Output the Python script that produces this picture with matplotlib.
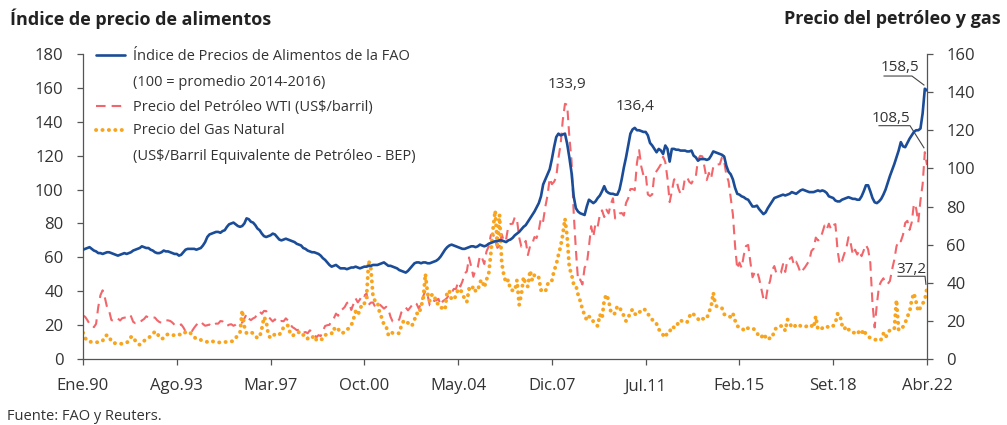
import matplotlib
matplotlib.use('Agg')
import matplotlib.pyplot as plt
from matplotlib.lines import Line2D

plt.rcParams['font.family'] = ['Open Sans', 'DejaVu Sans']

# ---------------- DATA (monthly, Jan 1990 - Apr 2022) ----------------
fao = [
 64.5, 65, 65.5, 66, 65, 64, 63.5, 62.5, 62.5, 62, 62.5, 63,
 63, 62.5, 62, 61.5, 61, 61.5, 62, 62.5, 62, 62.5, 63, 64,
 64.5, 65, 65.5, 66.5, 66, 65.5, 65.5, 64.5, 64, 63, 62.5, 62.5,
 63, 64, 63.5, 63.5, 63, 62.5, 62, 62, 61, 61.5, 63, 64.5,
 65, 65, 65, 65, 64.5, 65, 65.5, 67, 69, 72, 73.5, 74,
 74.5, 75, 75, 74.5, 75.5, 76, 78, 79.5, 80, 80.5, 79.5, 78.5,
 78, 78.5, 80, 83, 82.5, 81, 80.5, 79, 77, 76, 74, 72.5,
 72, 72.5, 73, 74, 73.5, 72, 70.5, 70, 70.5, 71, 70.5, 70,
 69.5, 69, 68, 67.5, 67, 65.5, 65, 64, 63.5, 63, 63, 62.5,
 62, 61, 59.5, 58.5, 57, 55.5, 54.5, 55, 55.5, 54.5, 53.5, 53.5,
 53.5, 53, 53.5, 54, 54, 54.5, 54, 53.5, 54, 54.5, 54.5, 55,
 55, 55.5, 55.5, 55.5, 56, 56.5, 57, 56, 55, 55, 54.5, 54,
 53.5, 52.5, 52, 51.5, 51, 52, 53.5, 55, 56.5, 57, 57, 56.5,
 57, 57, 56.5, 56.5, 57, 57.5, 58, 59, 60.5, 62.5, 64.5, 66,
 67, 67.5, 67, 66.5, 66, 65.5, 65, 65, 65.5, 66, 66.5, 66.5,
 66, 66.5, 67.5, 67, 66.5, 67, 68, 68.5, 69, 69.5, 69.5, 70,
 70, 69.5, 69, 70, 70.5, 71.5, 73, 74, 75, 76.5, 78, 79,
 81, 83, 85, 87, 89.5, 92, 96, 103, 106, 109, 112, 118,
 125, 131, 133, 132, 132.5, 133, 127, 119, 110, 96, 89, 87,
 86, 85.5, 85, 90, 94, 93, 92, 93, 95, 96.5, 99, 102,
 99, 98, 97.5, 97.5, 97, 97, 100, 106, 113, 119, 126, 133,
 135.5, 136.4, 135, 135, 134.5, 134, 134, 132, 127.5, 126, 124, 122,
 124, 123, 121, 126, 124, 116.5, 124, 124, 123.5, 123.5, 123, 123,
 123, 122.5, 122.5, 123, 120, 119, 117, 118, 118, 118, 117.5, 118,
 120, 122.5, 122, 121.5, 121, 120.5, 119.5, 114, 110.5, 109, 106, 101,
 97.5, 97, 96, 95.5, 94.5, 94, 92, 90, 90, 90.5, 88.5, 87,
 85.5, 86.5, 89, 91, 93, 95, 95.5, 96, 96.5, 97, 96.5, 97,
 97.5, 98.5, 98, 97.5, 98.5, 99.5, 100, 99.5, 99, 98.5, 98.5, 98.5,
 99, 99.5, 99, 99.5, 99, 98, 96, 95.5, 95, 93.5, 93, 93,
 94, 94.5, 95, 95.5, 95, 94.5, 94.5, 94, 94, 96, 99, 102.5,
 102.5, 99, 95, 92.5, 92, 93, 94.5, 97, 100, 104, 108, 111.5,
 115, 119, 123, 128, 125.5, 125, 127.5, 130, 132, 134, 135, 135,
 136, 145, 159.5, 158.5]

wti = [
 22.86, 22.11, 20.39, 18.43, 18.20, 16.70, 18.45, 27.31, 33.51, 36.04, 32.33, 27.28,
 25.23, 20.48, 19.90, 20.83, 21.23, 20.19, 21.40, 21.69, 21.89, 23.23, 22.46, 19.50,
 18.79, 19.01, 18.92, 20.23, 20.98, 22.39, 21.78, 21.34, 21.88, 21.69, 20.34, 19.41,
 19.03, 20.09, 20.32, 20.25, 19.95, 19.09, 17.89, 18.01, 17.50, 18.15, 16.61, 14.52,
 15.03, 14.78, 14.68, 16.42, 17.89, 19.06, 19.66, 18.38, 17.45, 17.72, 18.07, 17.16,
 18.04, 18.57, 18.54, 19.90, 19.74, 18.45, 17.33, 18.02, 18.23, 17.43, 17.99, 19.03,
 18.86, 19.09, 21.33, 23.50, 21.17, 20.42, 21.30, 21.90, 23.97, 24.88, 23.71, 25.23,
 25.13, 22.18, 20.97, 19.70, 20.82, 19.26, 19.66, 19.95, 19.80, 21.33, 20.19, 18.33,
 16.72, 16.06, 15.12, 15.35, 14.91, 13.72, 14.17, 13.47, 15.03, 14.46, 13.00, 11.35,
 12.52, 12.01, 14.68, 17.31, 17.72, 17.92, 20.10, 21.28, 23.80, 22.69, 25.00, 26.10,
 27.26, 29.37, 29.84, 25.72, 28.79, 31.82, 29.70, 31.26, 33.88, 33.11, 34.42, 28.44,
 29.59, 29.61, 27.24, 27.49, 28.63, 27.60, 26.43, 27.37, 26.20, 22.17, 19.64, 19.39,
 19.72, 20.72, 24.53, 26.18, 27.04, 25.52, 26.97, 28.39, 29.66, 28.84, 26.35, 29.46,
 32.95, 35.83, 33.51, 28.17, 28.11, 30.66, 30.75, 31.57, 28.31, 30.34, 31.11, 32.13,
 34.31, 34.69, 36.74, 36.75, 40.28, 38.03, 40.78, 44.90, 45.94, 53.28, 48.47, 43.15,
 46.84, 48.15, 54.19, 52.98, 49.83, 56.35, 59.00, 64.99, 65.59, 62.26, 58.32, 59.41,
 65.49, 61.63, 62.69, 69.44, 70.84, 70.95, 74.41, 73.04, 63.80, 58.89, 59.08, 61.96,
 54.51, 59.28, 60.44, 63.98, 63.46, 67.49, 74.12, 72.36, 79.92, 85.80, 94.77, 91.69,
 92.97, 95.39, 105.45, 112.58, 125.40, 133.88, 133.37, 116.67, 104.11, 76.61, 57.31, 41.12,
 41.71, 39.09, 47.94, 49.65, 59.03, 69.64, 64.15, 71.05, 69.41, 75.72, 77.99, 74.47,
 78.33, 76.39, 81.20, 84.29, 73.74, 75.34, 76.32, 76.60, 75.24, 81.89, 84.25, 89.15,
 89.17, 88.58, 102.86, 109.53, 100.90, 96.26, 97.30, 86.33, 85.52, 86.32, 97.16, 98.56,
 100.27, 102.20, 106.16, 103.32, 94.66, 82.30, 87.90, 94.13, 94.51, 89.49, 86.53, 87.86,
 94.76, 95.31, 92.94, 92.02, 94.51, 95.77, 104.67, 106.57, 106.29, 100.54, 93.86, 97.63,
 94.62, 100.82, 100.80, 102.07, 102.18, 105.79, 103.59, 96.54, 93.21, 84.40, 75.79, 59.29,
 47.22, 50.58, 47.82, 54.45, 59.27, 59.82, 50.90, 42.87, 45.48, 46.22, 42.44, 37.19,
 31.68, 30.32, 37.55, 40.75, 46.71, 48.76, 44.65, 44.72, 45.18, 49.78, 45.66, 51.97,
 52.50, 53.47, 49.33, 51.06, 48.48, 45.18, 46.63, 48.04, 49.82, 51.58, 56.64, 57.88,
 63.70, 62.23, 62.73, 66.25, 69.98, 67.87, 70.98, 68.06, 70.23, 70.75, 56.96, 49.52,
 51.38, 54.95, 58.15, 63.86, 60.83, 54.66, 57.35, 54.81, 56.95, 53.96, 57.03, 59.88,
 57.52, 50.54, 29.21, 16.55, 28.56, 38.31, 40.71, 42.34, 39.63, 39.40, 40.94, 47.02,
 52.00, 59.04, 62.33, 61.72, 65.17, 71.38, 72.49, 67.73, 71.65, 81.48, 79.15, 71.71,
 83.22, 91.64, 108.50, 101.78]

gas = [
 13.8, 11.0, 9.5, 9.0, 9.0, 8.8, 8.8, 8.8, 9.0, 9.5, 12.0, 12.5,
 12.0, 9.0, 8.5, 8.2, 8.0, 8.0, 8.0, 8.2, 8.5, 9.5, 11.5, 11.8,
 9.5, 8.0, 7.5, 8.5, 9.5, 10.5, 11.0, 12.0, 13.0, 14.5, 13.5, 11.5,
 10.5, 11.0, 12.5, 13.0, 13.0, 12.5, 12.5, 12.5, 13.0, 12.5, 13.5, 14.0,
 14.5, 14.0, 12.5, 11.5, 10.5, 10.5, 10.0, 9.5, 9.0, 9.0, 9.0, 9.5,
 9.0, 8.8, 8.6, 8.8, 9.0, 9.0, 8.8, 9.0, 9.2, 9.5, 11.0, 12.5,
 14.0, 25.6, 17.0, 13.5, 13.5, 14.0, 13.5, 12.0, 11.0, 11.5, 16.0, 22.0,
 20.0, 12.5, 11.0, 11.8, 13.1, 12.8, 12.7, 14.4, 16.7, 17.8, 17.5, 13.6,
 12.1, 12.9, 13.0, 14.1, 12.4, 12.6, 12.6, 10.7, 11.7, 11.1, 12.3, 10.0,
 10.7, 10.3, 10.4, 12.5, 13.1, 13.3, 13.4, 16.2, 14.8, 15.8, 13.7, 13.7,
 14.0, 15.4, 16.2, 17.6, 20.8, 24.9, 23.1, 25.7, 29.3, 29.1, 32.0, 51.6,
 47.4, 32.5, 30.3, 30.1, 24.3, 21.6, 18.0, 17.2, 12.7, 14.3, 13.6, 13.3,
 13.5, 13.5, 17.6, 19.9, 20.3, 18.9, 17.3, 17.9, 20.6, 24.0, 23.4, 27.5,
 31.5, 44.7, 34.4, 30.5, 33.7, 33.8, 29.2, 28.9, 26.8, 26.9, 25.9, 35.6,
 35.6, 31.1, 31.3, 33.1, 36.7, 36.4, 34.4, 31.4, 29.9, 36.8, 35.8, 38.2,
 35.7, 35.6, 40.4, 41.5, 37.5, 41.6, 44.3, 55.3, 68.2, 77.8, 59.7, 75.7,
 50.4, 43.7, 40.0, 41.5, 36.3, 36.0, 35.8, 41.4, 28.4, 33.9, 43.0, 39.0,
 38.0, 46.4, 41.2, 44.1, 44.3, 42.6, 36.1, 36.1, 35.3, 39.1, 41.2, 41.2,
 46.3, 49.5, 54.6, 59.0, 65.4, 73.6, 64.3, 47.9, 44.5, 39.1, 38.7, 33.8,
 30.4, 26.2, 23.0, 20.3, 22.2, 22.0, 19.6, 18.2, 17.3, 23.3, 21.2, 31.0,
 33.8, 30.9, 24.9, 23.4, 24.0, 27.8, 26.9, 25.1, 22.6, 19.9, 21.5, 24.7,
 26.0, 23.7, 23.0, 24.6, 25.0, 26.3, 25.6, 23.5, 22.6, 20.7, 18.8, 18.4,
 15.5, 14.5, 12.6, 11.3, 14.1, 14.3, 17.1, 16.5, 16.5, 19.3, 20.5, 19.4,
 19.3, 19.3, 22.1, 24.2, 23.4, 22.2, 21.0, 19.9, 21.0, 21.3, 21.1, 24.6,
 27.3, 34.8, 28.4, 27.0, 26.6, 26.6, 23.5, 22.7, 22.7, 21.9, 23.9, 20.2,
 17.3, 16.6, 16.4, 15.1, 16.5, 16.1, 16.5, 16.1, 15.4, 13.6, 12.1, 11.2,
 13.2, 11.5, 10.0, 11.1, 11.1, 15.0, 16.4, 16.4, 17.3, 17.3, 14.8, 20.8,
 19.1, 16.5, 16.7, 18.0, 18.3, 17.3, 17.3, 16.8, 17.3, 16.7, 17.5, 16.4,
 22.4, 15.5, 15.6, 16.2, 16.2, 17.2, 16.4, 17.2, 17.4, 19.0, 23.7, 23.4,
 18.0, 15.6, 17.1, 15.4, 15.3, 13.9, 13.7, 12.9, 14.8, 13.5, 15.4, 12.9,
 11.7, 11.1, 10.4, 10.1, 10.2, 9.5, 10.3, 13.3, 11.1, 13.9, 15.1, 15.0,
 15.7, 31.0, 15.2, 15.4, 16.9, 18.9, 22.3, 24.5, 31.0, 34.5, 30.0, 25.0,
 27.0, 29.0, 31.0, 37.2]

tick_labels = ['Ene.90', 'Ago.93', 'Mar.97', 'Oct.00', 'May.04',
               'Dic.07', 'Jul.11', 'Feb.15', 'Set.18', 'Abr.22']
tick_months = [0, 43, 86, 129, 172, 215, 258, 301, 344, 387]

assert len(fao) == len(wti) == len(gas) == 388
months = list(range(len(fao)))

# ---------------- STYLE ----------------
BLUE = '#1B4C97'
PINK = '#F2666B'
ORANGE = '#F8A41E'
TXT = '#333333'
SPINE = '#555555'

W, H = 1007, 425
fig = plt.figure(figsize=(W / 100, H / 100), dpi=100)
L, R, T, B = 83, 927, 54, 359
ax = fig.add_axes([L / W, 1 - B / H, (R - L) / W, (B - T) / H])
ax2 = ax.twinx()

def px(x, y):
    return x / W, 1 - y / H

blue_kw = dict(color=BLUE, lw=1.9, solid_capstyle='round', solid_joinstyle='round')
pink_kw = dict(color=PINK, lw=1.5, linestyle=(0, (4.6, 2.9)))
orange_kw = dict(color=ORANGE, lw=2.8, linestyle=(0, (0.05, 1.6)),
                 dash_capstyle='round')

ax2.plot(months, wti, zorder=2, **pink_kw)
ax2.plot(months, gas, zorder=3, **orange_kw)
ax.plot(months, fao, zorder=4, **blue_kw)
ax.set_zorder(ax2.get_zorder() + 1)
ax.patch.set_visible(False)

ax.set_xlim(0, 387)
ax.set_ylim(0, 180)
ax2.set_ylim(0, 160)
ax.set_yticks(range(0, 181, 20))
ax2.set_yticks(range(0, 161, 20))
ax.set_xticks(tick_months)
ax.set_xticklabels(tick_labels)

for a in (ax, ax2):
    a.spines['top'].set_visible(False)
    for s in ('left', 'right', 'bottom'):
        a.spines[s].set_color(SPINE)
        a.spines[s].set_linewidth(0.9)
ax.spines['right'].set_visible(False)
ax2.spines['left'].set_visible(False)
ax2.spines['bottom'].set_visible(False)

ax.tick_params(axis='both', direction='out', length=4, width=0.9, color=SPINE,
               labelsize=12, labelcolor=TXT, pad=10)
ax2.tick_params(axis='y', direction='out', length=4, width=0.9, color=SPINE,
                labelsize=12, labelcolor=TXT, pad=10)

def fmt(v):
    return f"{v:.1f}".replace('.', ',')

# peak labels
i_oil = wti.index(max(wti[:300]))
ax2.text(i_oil + 1, wti[i_oil] + 10, fmt(wti[i_oil]), ha='center', va='center',
         fontsize=11, color=TXT)
i_fao = fao.index(max(fao[:300]))
ax.text(i_fao, fao[i_fao] + 12.5, fmt(fao[i_fao]), ha='center', va='center',
        fontsize=11, color=TXT)

# end labels with leader lines
lead_kw = dict(color='#444444', lw=0.8)
n = len(fao) - 1
ax.text(n - 12.4, fao[n] + 13.8, fmt(fao[n]), ha='center', va='center', fontsize=11, color=TXT)
ax.plot([n - 19.7, n - 6.9, n - 1.4], [fao[n] + 8.5, fao[n] + 8.5, fao[n] + 3.2],
        clip_on=False, **lead_kw)

m = wti.index(max(wti[300:]))
ax2.text(m - 15.5, wti[m] + 17.5, fmt(wti[m]), ha='center', va='center', fontsize=11, color=TXT)
ax2.plot([m - 21, m - 6.8, m - 0.4], [wti[m] + 13.9, wti[m] + 13.9, wti[m] + 2.3],
         clip_on=False, **lead_kw)

g = len(gas) - 1
ax2.text(g - 7, gas[g] + 9.9, fmt(gas[g]), ha='center', va='center', fontsize=11, color=TXT)
ax2.plot([g - 13.3, g - 0.9, g - 0.5], [gas[g] + 6.2, gas[g] + 6.2, gas[g] + 2.0],
         clip_on=False, **lead_kw)

# titles
fig.text(*px(10, 19), 'Índice de precio de alimentos', ha='left', va='center',
         fontsize=13, fontweight='bold', color='#222222')
fig.text(*px(1001, 19), 'Precio del petróleo y gas', ha='right', va='center',
         fontsize=13, fontweight='bold', color='#222222')
fig.text(*px(7, 416), 'Fuente: FAO y Reuters.', ha='left', va='center',
         fontsize=10.5, color=TXT)

# legend (manual)
leg_items = [
    (55, 'Índice de Precios de Alimentos de la FAO', blue_kw),
    (81, '(100 = promedio 2014-2016)', None),
    (106, r'Precio del Petróleo WTI (US\$/barril)', pink_kw),
    (130, 'Precio del Gas Natural', orange_kw),
    (155, r'(US\$/Barril Equivalente de Petróleo - BEP)', None),
]
for yy, label, kw in leg_items:
    if kw is not None:
        x0, y0 = px(96, yy)
        x1, _ = px(125, yy)
        fig.add_artist(Line2D([x0, x1], [y0, y0], transform=fig.transFigure, **kw))
    fig.text(*px(133, yy + 1), label, ha='left', va='center', fontsize=10.5, color=TXT)

fig.savefig('out.png', dpi=100)
